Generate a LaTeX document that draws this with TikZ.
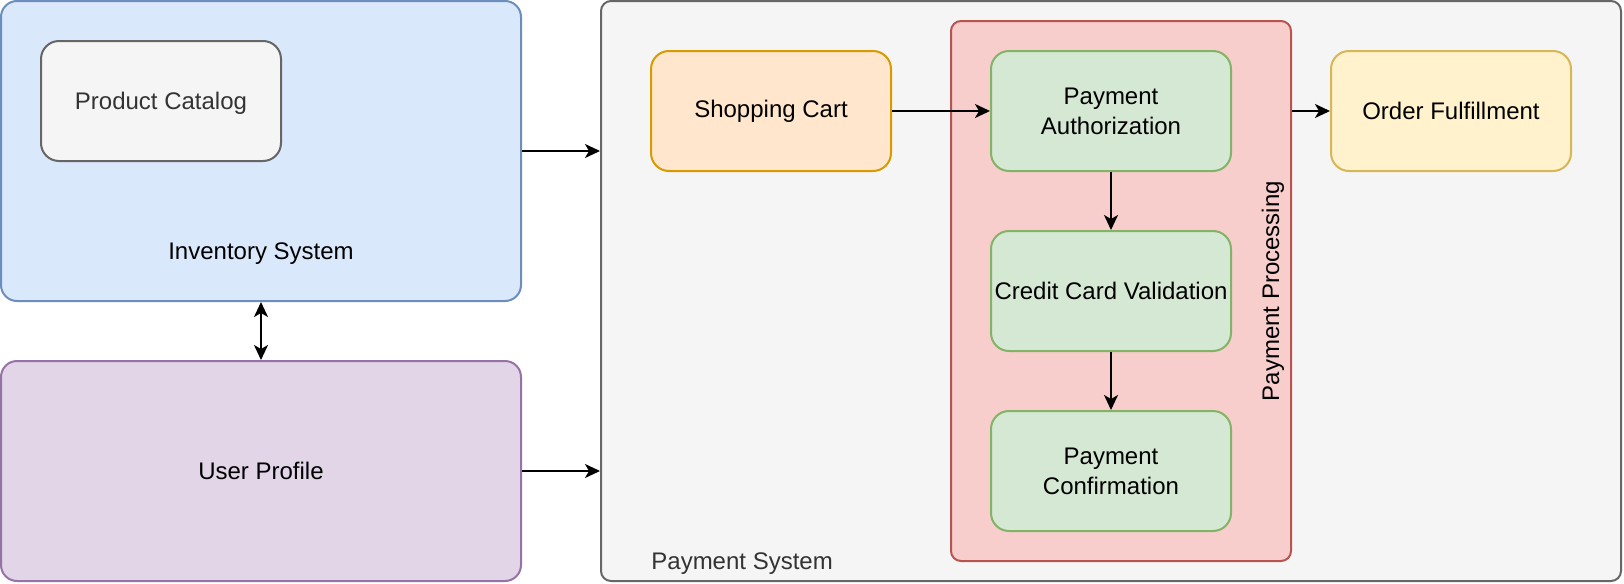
\documentclass[tikz,border=0pt]{standalone}
\usepackage{fontspec}
\setmainfont{Liberation Sans}
\usetikzlibrary{arrows.meta}
\definecolor{invfill}{HTML}{DAE8FC}
\definecolor{invdraw}{HTML}{6C8EBF}
\definecolor{grayfill}{HTML}{F5F5F5}
\definecolor{graydraw}{HTML}{666666}
\definecolor{graytext}{HTML}{333333}
\definecolor{purfill}{HTML}{E1D5E7}
\definecolor{purdraw}{HTML}{9673A6}
\definecolor{orfill}{HTML}{FFE6CC}
\definecolor{ordraw}{HTML}{D79B00}
\definecolor{redfill}{HTML}{F8CECC}
\definecolor{reddraw}{HTML}{B85450}
\definecolor{grfill}{HTML}{D5E8D4}
\definecolor{grdraw}{HTML}{82B366}
\definecolor{yefill}{HTML}{FFF2CC}
\definecolor{yedraw}{HTML}{D6B656}
\tikzset{
  box/.style={draw, line width=1pt, rounded corners=9pt, inner sep=0pt, align=center,
    font=\fontsize{12}{15}\selectfont},
  small/.style={box, minimum width=120pt, minimum height=60pt},
  arr/.style={line width=1pt, -{Stealth[length=7.5pt, width=7pt, inset=2pt]}},
  darr/.style={line width=1pt, {Stealth[length=7.5pt, width=7pt, inset=2pt]}-{Stealth[length=7.5pt, width=7pt, inset=2pt]}},
  lbl/.style={font=\fontsize{12}{15}\selectfont, inner sep=0pt}
}
\begin{document}
\begin{tikzpicture}[x=0.5pt, y=-0.5pt]
\useasboundingbox (0,0) rectangle (1624,584);
% containers
\node[box, rounded corners=8pt, fill=invfill, draw=invdraw, minimum width=260pt, minimum height=150pt] (inv) at (261,151) {};
\node[lbl] (invlabel) at (261,254) {Inventory System};
\node[box, fill=grayfill, draw=graydraw, minimum width=120pt, minimum height=60pt] (cat) at (161,101) {};
\node[lbl, text=graytext] (catlabel) at (161,103) {Product Catalog};
\node[box, rounded corners=8pt, fill=purfill, draw=purdraw, minimum width=260pt, minimum height=110pt] (user) at (261,471) {User Profile};
\node[box, rounded corners=5pt, fill=grayfill, draw=graydraw, minimum width=510pt, minimum height=290pt] (pay) at (1111,291) {};
\node[lbl, anchor=west, text=graytext] (paylabel) at (651,564) {Payment System};
\node[small, fill=orfill, draw=ordraw] (cart) at (771,111) {Shopping Cart};
\node[box, rounded corners=5pt, fill=redfill, draw=reddraw, minimum width=170pt, minimum height=270pt] (proc) at (1121,291) {};
\node[lbl, rotate=90] (proclabel) at (1273,291) {Payment Processing};
\node[small, fill=grfill, draw=grdraw] (auth) at (1111,111) {Payment\\Authorization};
\node[small, fill=grfill, draw=grdraw] (ccv) at (1111,291) {Credit Card Validation};
\node[small, fill=grfill, draw=grdraw] (conf) at (1111,471) {Payment\\Confirmation};
\node[small, fill=yefill, draw=yedraw] (ful) at (1451,111) {Order Fulfillment};
% connectors
\draw[arr] (inv.east) -- (inv.east -| pay.west);
\draw[arr] (user.east) -- (user.east -| pay.west);
\draw[darr] (inv.south) -- (user.north);
\draw[arr] (cart.east) -- (auth.west);
\draw[arr] (auth.south) -- (ccv.north);
\draw[arr] (ccv.south) -- (conf.north);
\draw[arr] (ful.west -| proc.east) -- (ful.west);
\end{tikzpicture}
\end{document}
